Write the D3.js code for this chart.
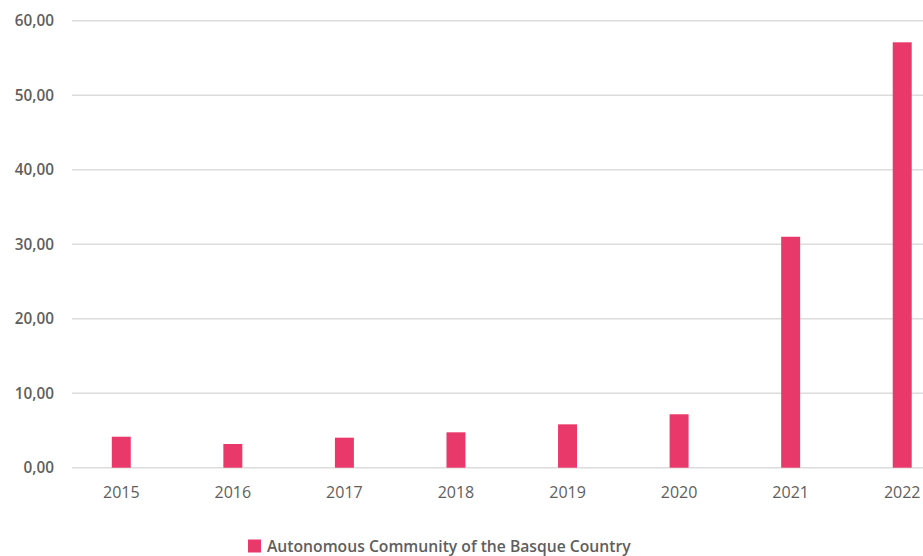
<!DOCTYPE html>
<html>
<head>
<meta charset="utf-8">
<script src="https://cdn.jsdelivr.net/npm/d3@7"></script>
<style>
body{margin:0;background:#fff;}
svg{display:block;font-family:"Open Sans",sans-serif;}
</style>
</head>
<body>
<svg id="chart" width="923" height="556"></svg>
<script>
const years = ["2015","2016","2017","2018","2019","2020","2021","2022"];
const values = [4.16, 3.18, 4.03, 4.75, 5.82, 7.17, 31.0, 57.1];
const yTicks = [0,10,20,30,40,50,60];
const seriesName = "Autonomous Community of the Basque Country";
const barColor = "#e8396a";

const svg = d3.select("#chart");
const x = d3.scaleBand().domain(years).range([65.5, 958]).paddingInner(0.83).paddingOuter(0.415);
const y = d3.scaleLinear().domain([0,60]).range([467.7, 20.7]);

const fmt = v => d3.format(".2f")(v).replace(".", ",");

// gridlines
svg.append("g").selectAll("line").data(yTicks).join("line")
  .attr("x1", 72).attr("x2", 923)
  .attr("y1", d => y(d)).attr("y2", d => y(d))
  .attr("stroke", "#dcdcdc").attr("stroke-width", 1.5);

// y labels
svg.append("g").selectAll("text").data(yTicks).join("text")
  .attr("x", 54).attr("y", d => y(d)).attr("dy", "0.35em")
  .attr("text-anchor", "end")
  .attr("font-size", 15.3).attr("font-weight", 600).attr("fill", "#5e5e5e")
  .text(fmt);

// bars
svg.append("g").selectAll("rect").data(years).join("rect")
  .attr("x", d => x(d)).attr("width", x.bandwidth())
  .attr("y", (d,i) => y(values[i])).attr("height", (d,i) => y(0) - y(values[i]))
  .attr("fill", barColor);

// x labels
svg.append("g").selectAll("text").data(years).join("text")
  .attr("x", d => x(d) + x.bandwidth()/2).attr("y", 498)
  .attr("text-anchor", "middle")
  .attr("font-size", 16).attr("fill", "#5e5e5e")
  .text(d => d);

// legend
const lg = svg.append("g");
lg.append("rect").attr("x", 248).attr("y", 539.5).attr("width", 13).attr("height", 13).attr("fill", barColor);
lg.append("text").attr("x", 267).attr("y", 551.5)
  .attr("font-size", 15.7).attr("font-weight", 600).attr("fill", "#5e5e5e")
  .text(seriesName);
</script>
</body>
</html>
